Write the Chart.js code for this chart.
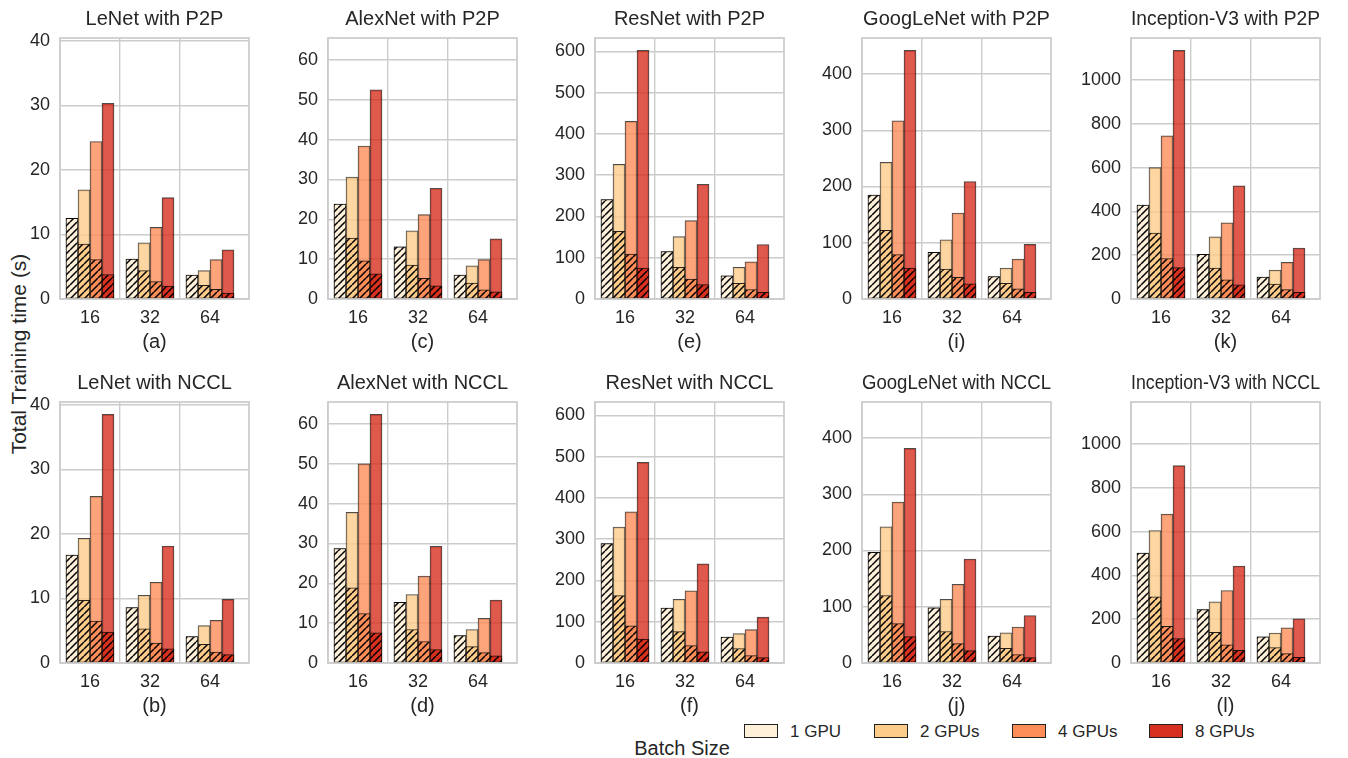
<!DOCTYPE html>
<html><head><meta charset="utf-8">
<script src="https://cdn.jsdelivr.net/npm/chart.js@4"></script>
<style>
html,body{margin:0;padding:0;background:#fff;}
body{width:1348px;height:758px;position:relative;overflow:hidden;font-family:"Liberation Sans",Arial,sans-serif;color:#262626;}
canvas{position:absolute;}
.lbl{position:absolute;white-space:nowrap;line-height:1;}
.sw{position:absolute;width:32px;height:12px;border:1px solid #222;box-sizing:content-box;}
</style></head><body>
<div class="lbl" style="left:18px;top:354px;font-size:21px;transform:translate(-50%,-50%) rotate(-90deg);">Total Training time (s)</div>
<div class="lbl" style="left:682px;top:748px;font-size:20px;transform:translate(-50%,-50%);">Batch Size</div>
<div id="legend"></div>
<script>
// ---------------- data ----------------
const categories = ['16', '32', '64'];
const gpuLabels = ['1 GPU', '2 GPUs', '4 GPUs', '8 GPUs'];
const gpuColors = ['#fef0d9', '#fdcc8a', '#fc8d59', '#d7301f'];

// rows: batch size 16/32/64 ; columns: 1,2,4,8 GPUs   (total time, compute-only hatched part)
const lenetP2pTotal   = [[12.5, 16.9, 24.4, 30.3], [6.2, 8.7, 11.1, 15.7], [3.7, 4.4, 6.1, 7.6]];
const lenetP2pComp    = [[12.5, 8.5, 6.1, 3.8], [6.2, 4.4, 2.7, 2.0], [3.7, 2.1, 1.5, 0.9]];
const lenetNcclTotal  = [[16.7, 19.3, 25.8, 38.5], [8.6, 10.5, 12.5, 18.1], [4.1, 5.8, 6.6, 9.85]];
const lenetNcclComp   = [[16.7, 9.7, 6.5, 4.8], [8.6, 5.3, 3.1, 2.2], [4.1, 2.9, 1.7, 1.3]];
const alexP2pTotal    = [[23.8, 30.6, 38.4, 52.5], [13.1, 17.1, 21.2, 27.8], [6.0, 8.3, 9.9, 15.1]];
const alexP2pComp     = [[23.8, 15.3, 9.6, 6.3], [13.1, 8.5, 5.2, 3.3], [6.0, 4.0, 2.3, 1.8]];
const alexNcclTotal   = [[28.75, 37.8, 50.0, 62.4], [15.2, 17.2, 21.8, 29.3], [6.9, 8.4, 11.2, 15.8]];
const alexNcclComp    = [[28.75, 18.9, 12.4, 7.6], [15.2, 8.4, 5.4, 3.4], [6.9, 4.1, 2.6, 1.8]];
const resP2pTotal     = [[241, 326, 430, 602], [115, 151, 190, 278], [56, 77, 90, 132]];
const resP2pComp      = [[241, 164, 109, 75], [115, 77, 48, 35], [56, 38, 23, 16]];
const resNcclTotal    = [[289, 329, 366, 486], [133, 154, 175, 240], [63, 71, 81, 111]];
const resNcclComp     = [[289, 163, 90, 58], [133, 76, 42, 27], [63, 35, 18, 13]];
const googP2pTotal    = [[185, 243, 317, 442], [83, 105, 153, 209], [40, 55, 71, 97]];
const googP2pComp     = [[185, 122, 79, 55], [83, 53, 38.5, 27], [40, 28, 18, 12]];
const googNcclTotal   = [[197, 242, 286, 381.5], [98, 113, 140, 185], [48, 53.5, 64, 84.5]];
const googNcclComp    = [[197, 120, 70, 47], [98, 56, 34.5, 22], [48, 26, 15, 9.5]];
const incepP2pTotal   = [[429, 600, 745, 1135], [204, 284, 348, 517], [100, 132, 167, 233]];
const incepP2pComp    = [[429, 301, 185, 143], [204, 141, 87, 65], [100, 68, 43, 30]];
const incepNcclTotal  = [[502, 605, 680, 901], [244, 279, 331, 443], [120, 137, 161, 202]];
const incepNcclComp   = [[502, 302, 168, 112], [244, 140, 83, 58], [120, 70, 42.5, 26]];

const yStep = [10, 10, 100, 100, 200];

const panels = [
  {title: 'LeNet with P2P', sub: '(a)', col: 0, row: 0, total: lenetP2pTotal, comp: lenetP2pComp},
  {title: 'LeNet with NCCL', sub: '(b)', col: 0, row: 1, total: lenetNcclTotal, comp: lenetNcclComp},
  {title: 'AlexNet with P2P', sub: '(c)', col: 1, row: 0, total: alexP2pTotal, comp: alexP2pComp},
  {title: 'AlexNet with NCCL', sub: '(d)', col: 1, row: 1, total: alexNcclTotal, comp: alexNcclComp},
  {title: 'ResNet with P2P', sub: '(e)', col: 2, row: 0, total: resP2pTotal, comp: resP2pComp},
  {title: 'ResNet with NCCL', sub: '(f)', col: 2, row: 1, total: resNcclTotal, comp: resNcclComp},
  {title: 'GoogLeNet with P2P', sub: '(i)', col: 3, row: 0, total: googP2pTotal, comp: googP2pComp},
  {title: 'GoogLeNet with NCCL', sub: '(j)', col: 3, row: 1, total: googNcclTotal, comp: googNcclComp},
  {title: 'Inception-V3 with P2P', sub: '(k)', col: 4, row: 0, total: incepP2pTotal, comp: incepP2pComp},
  {title: 'Inception-V3 with NCCL', sub: '(l)', col: 4, row: 1, total: incepNcclTotal, comp: incepNcclComp}
];

// ---------------- layout / style ----------------
const TEXT = '#262626';
const FONT = "'Liberation Sans', Arial, sans-serif";
Chart.defaults.font.family = FONT;
Chart.defaults.color = TEXT;

const colLeft = [60, 328, 595, 862, 1131];
const rowTop = [38, 402];
const PLOT_W = 189, PLOT_H = 261, YAX = 60, PADR = 6, TOPH = 40, XAXH = 60;

function withAlpha(hex, a) {
  const n = parseInt(hex.slice(1), 16);
  return `rgba(${(n >> 16) & 255},${(n >> 8) & 255},${n & 255},${a})`;
}
function hatch(color) {
  const s = 7;
  const c = document.createElement('canvas');
  c.width = s; c.height = s;
  const g = c.getContext('2d');
  g.fillStyle = color; g.fillRect(0, 0, s, s);
  g.strokeStyle = '#000'; g.lineWidth = 1.5;
  g.beginPath();
  for (let k = -1; k <= 1; k++) { g.moveTo(k * s, s); g.lineTo(k * s + s, 0); }
  g.stroke();
  return g.createPattern(c, 'repeat');
}
function barX(g, i) { return g + 0.2 + 0.2 * i; }

const colMax = [0, 0, 0, 0, 0];
panels.forEach(p => p.total.forEach(r => r.forEach(v => { colMax[p.col] = Math.max(colMax[p.col], v); })));

const framePlugin = {
  id: 'frame',
  afterDatasetsDraw(chart) {
    const {ctx, chartArea: a} = chart;
    ctx.save();
    ctx.strokeStyle = '#cccccc';
    ctx.lineWidth = 1.75;
    ctx.strokeRect(a.left, a.top, a.right - a.left, a.bottom - a.top);
    ctx.restore();
  }
};

panels.forEach(p => {
  const cv = document.createElement('canvas');
  cv.width = YAX + PLOT_W + PADR;
  cv.height = TOPH + PLOT_H + XAXH;
  cv.style.left = (colLeft[p.col] - YAX) + 'px';
  cv.style.top = (rowTop[p.row] - TOPH) + 'px';
  document.body.appendChild(cv);

  const datasets = [];
  gpuLabels.forEach((lab, i) => {
    datasets.push({
      label: lab + ' (compute)',
      data: categories.map((c, g) => ({x: barX(g, i), y: p.comp[g][i]})),
      backgroundColor: hatch(gpuColors[i]),
      borderColor: 'rgba(0,0,0,0.85)', borderWidth: 1, borderSkipped: false,
      order: 0, grouped: false, barPercentage: 1, categoryPercentage: 1
    });
  });
  gpuLabels.forEach((lab, i) => {
    datasets.push({
      label: lab,
      data: categories.map((c, g) => ({x: barX(g, i), y: p.total[g][i]})),
      backgroundColor: withAlpha(gpuColors[i], 0.8),
      borderColor: 'rgba(0,0,0,0.7)', borderWidth: 1, borderSkipped: false,
      order: 1, grouped: false, barPercentage: 1, categoryPercentage: 1
    });
  });

  const step = yStep[p.col];
  const ymax = colMax[p.col] * 1.05;

  new Chart(cv, {
    type: 'bar',
    data: {datasets},
    options: {
      responsive: false, animation: false, devicePixelRatio: 1,
      layout: {padding: {left: 0, right: PADR, top: 0, bottom: 0}},
      plugins: {
        legend: {display: false}, tooltip: {enabled: false},
        title: {display: true, text: p.title, fullSize: false, color: TEXT,
          font: {size: 20, weight: 'normal'}, padding: {top: 9, bottom: 7}}
      },
      scales: {
        x: {
          type: 'linear', min: 0, max: 3.15, offset: false,
          afterBuildTicks: s => { s.ticks = [0, 0.5, 1, 1.5, 2, 2.5].map(v => ({value: v})); },
          afterFit: s => { s.height = XAXH; },
          grid: {offset: false, drawTicks: false, lineWidth: 1.4,
            color: ctx => (ctx.tick && Number.isInteger(ctx.tick.value)) ? '#cccccc' : 'rgba(0,0,0,0)'},
          border: {display: false},
          ticks: {autoSkip: false, maxRotation: 0, padding: 8, color: TEXT, font: {size: 18},
            callback: v => Number.isInteger(v) ? '' : categories[Math.floor(v)]},
          title: {display: true, text: p.sub, color: TEXT, font: {size: 20}, padding: {top: 0, bottom: 4.5}}
        },
        y: {
          min: 0, max: ymax,
          afterBuildTicks: s => {
            const t = [];
            for (let v = 0; v <= ymax; v += step) t.push({value: v});
            s.ticks = t;
          },
          afterFit: s => { s.width = YAX; },
          grid: {color: '#cccccc', lineWidth: 1.4, drawTicks: false},
          border: {display: false},
          ticks: {autoSkip: false, padding: 10, color: TEXT, font: {size: 18},
            callback: v => String(v)}
        }
      }
    },
    plugins: [framePlugin]
  });
});

// legend
const legendSwatchX = [744, 874, 1012, 1149];
const leg = document.getElementById('legend');
gpuLabels.forEach((lab, i) => {
  const sw = document.createElement('div');
  sw.className = 'sw';
  sw.style.left = legendSwatchX[i] + 'px';
  sw.style.top = '724px';
  sw.style.background = gpuColors[i];
  leg.appendChild(sw);
  const t = document.createElement('div');
  t.className = 'lbl';
  t.style.left = (legendSwatchX[i] + 46) + 'px';
  t.style.top = '731px';
  t.style.fontSize = '17px';
  t.style.transform = 'translateY(-50%)';
  t.textContent = lab;
  leg.appendChild(t);
});
</script>
</body></html>
